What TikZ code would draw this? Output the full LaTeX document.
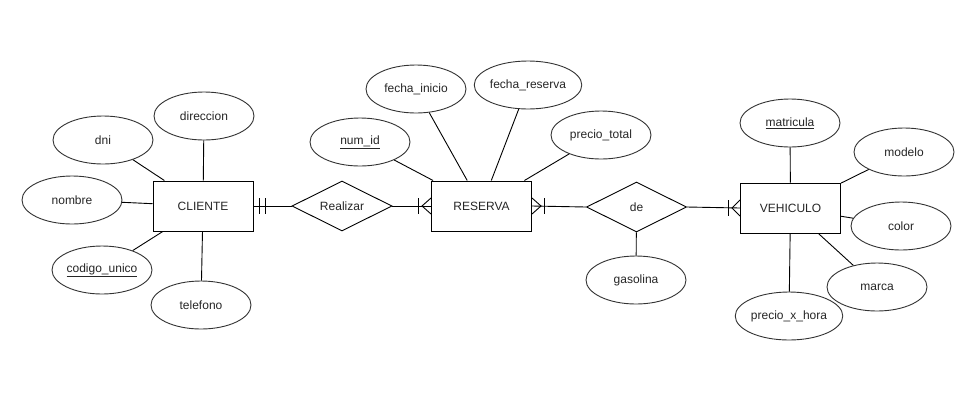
\documentclass[tikz,border=0pt]{standalone}
\usepackage{fontspec}
\setmainfont{Liberation Sans}
\usetikzlibrary{shapes.geometric,calc}
\begin{document}
\begin{tikzpicture}[x=1pt,y=-1pt,
  every node/.style={font=\fontsize{12}{14}\selectfont, text=black!85},
  entity/.style={draw=black, line width=1pt, rectangle, minimum width=100pt, minimum height=50pt, inner sep=0pt},
  attr/.style={draw=black!80, line width=0.9pt, ellipse, minimum width=100pt, minimum height=48pt, inner sep=0pt},
  rel/.style={draw=black, line width=0.9pt, diamond, minimum width=100pt, minimum height=50pt, inner sep=0pt, aspect=2},
  conn/.style={draw=black, line width=0.9pt},
  crow/.style={draw=black, line width=0.9pt}
]
\useasboundingbox (0,0) rectangle (979,400);
\fill[white] (0,0) rectangle (979,400);

% entities
\node[entity] (cliente) at (203,206) {CLIENTE};
\node[entity] (reserva) at (481.5,206) {RESERVA};
\node[entity] (vehiculo) at (790.5,208) {VEHICULO};

% relationships
\node[rel] (realizar) at (342,206) {Realizar};
\node[rel] (de) at (636.5,207) {de};

% CLIENTE attributes
\node[attr] (dni) at (103,140) {dni};
\node[attr] (direccion) at (204,116) {direccion};
\node[attr] (nombre) at (72,200) {nombre};
\node[attr] (codigo) at (102,270) {\underline{codigo\_unico}};
\node[attr] (telefono) at (201,305) {telefono};

% RESERVA attributes
\node[attr] (numid) at (360,142) {\underline{num\_id}};
\node[attr] (finicio) at (416,89) {fecha\_inicio};
\node[attr] (freserva) at (528,85) {fecha\_reserva};
\node[attr] (ptotal) at (601,135) {precio\_total};

% de attribute
\node[attr] (gasolina) at (636,280) {gasolina};

% VEHICULO attributes
\node[attr] (matricula) at (790,123) {\underline{matricula}};
\node[attr] (modelo) at (904,152) {modelo};
\node[attr] (color) at (901,226) {color};
\node[attr] (marca) at (877,287) {marca};
\node[attr] (pxhora) at (789,316) {precio\_x\_hora};

% attribute connectors
\foreach \a in {dni,direccion,nombre,codigo,telefono}
  \draw[conn] (\a) -- (cliente);
\foreach \a in {numid,finicio,freserva,ptotal}
  \draw[conn] (\a) -- (reserva);
\draw[conn] (gasolina) -- (de);
\foreach \a in {matricula,modelo,color,marca,pxhora}
  \draw[conn] (\a) -- (vehiculo);

% relationship connectors
\draw[conn] (cliente.east) -- (realizar.west);
\draw[conn] (realizar.east) -- (reserva.west);
\draw[conn] (reserva.east) -- (de.west);
\draw[conn] (de.east) -- (vehiculo.west);

% CLIENTE: mandatory one (two bars)
\draw[crow] ($(cliente.east)+(6,-8)$) -- ($(cliente.east)+(6,8)$);
\draw[crow] ($(cliente.east)+(12,-8)$) -- ($(cliente.east)+(12,8)$);

% RESERVA west: one-to-many
\draw[crow] ($(reserva.west)+(-13,-8)$) -- ($(reserva.west)+(-13,8)$);
\draw[crow] ($(reserva.west)+(0,-8)$) -- ($(reserva.west)+(-9,0)$) -- ($(reserva.west)+(0,8)$);

% RESERVA east: one-to-many
\draw[crow] ($(reserva.east)+(12,-8)$) -- ($(reserva.east)+(12,8)$);
\draw[crow] ($(reserva.east)+(0,-8)$) -- ($(reserva.east)+(9,0)$) -- ($(reserva.east)+(0,8)$);

% VEHICULO west: one-to-many
\draw[crow] ($(vehiculo.west)+(-12,-8)$) -- ($(vehiculo.west)+(-12,8)$);
\draw[crow] ($(vehiculo.west)+(0,-8)$) -- ($(vehiculo.west)+(-8,0)$) -- ($(vehiculo.west)+(0,8)$);
\end{tikzpicture}
\end{document}
